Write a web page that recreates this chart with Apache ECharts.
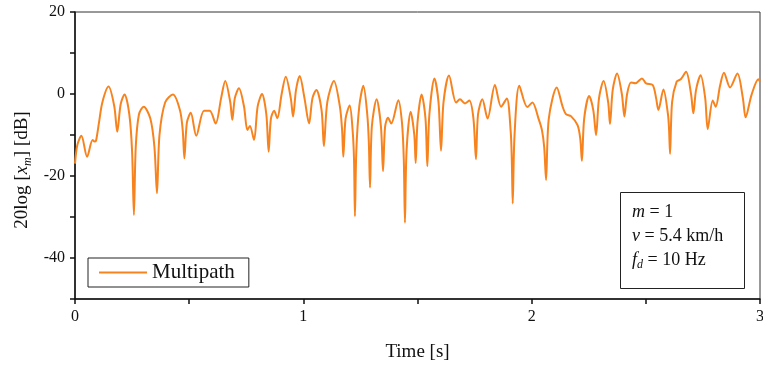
<!DOCTYPE html>
<html>
<head>
<meta charset="utf-8">
<script src="https://cdn.jsdelivr.net/npm/echarts@6/dist/echarts.min.js"></script>
<style>
  html, body { margin: 0; padding: 0; background: #fff; }
  #chart { width: 763px; height: 365px; }
</style>
</head>
<body>
<div id="chart"></div>
<script>
// Time [s]
var time = [
  0.000, 0.010, 0.028, 0.053, 0.077, 0.086, 0.092, 0.105, 0.120, 0.147,
  0.172, 0.185, 0.200, 0.217, 0.238, 0.250, 0.258, 0.266, 0.280, 0.301,
  0.330, 0.348, 0.359, 0.370, 0.395, 0.429, 0.460, 0.472, 0.479, 0.490,
  0.507, 0.531, 0.565, 0.590, 0.616, 0.640, 0.658, 0.680, 0.689, 0.700,
  0.718, 0.740, 0.755, 0.766, 0.784, 0.800, 0.819, 0.838, 0.848, 0.858,
  0.872, 0.886, 0.905, 0.923, 0.945, 0.955, 0.968, 0.984, 1.005, 1.025,
  1.040, 1.057, 1.080, 1.090, 1.105, 1.134, 1.160, 1.170, 1.175, 1.185,
  1.203, 1.216, 1.222, 1.226, 1.232, 1.245, 1.263, 1.280, 1.287, 1.292,
  1.300, 1.321, 1.340, 1.349, 1.358, 1.371, 1.385, 1.416, 1.432, 1.440,
  1.445, 1.452, 1.470, 1.486, 1.492, 1.500, 1.518, 1.535, 1.543, 1.552,
  1.574, 1.592, 1.603, 1.614, 1.638, 1.669, 1.686, 1.708, 1.727, 1.745,
  1.756, 1.765, 1.784, 1.807, 1.839, 1.866, 1.891, 1.908, 1.913, 1.917,
  1.925, 1.946, 1.981, 2.003, 2.030, 2.045, 2.055, 2.063, 2.075, 2.110,
  2.135, 2.150, 2.172, 2.201, 2.213, 2.220, 2.230, 2.252, 2.270, 2.282,
  2.295, 2.315, 2.335, 2.343, 2.355, 2.374, 2.395, 2.406, 2.418, 2.435,
  2.454, 2.483, 2.501, 2.530, 2.545, 2.555, 2.577, 2.597, 2.602, 2.606,
  2.615, 2.635, 2.653, 2.676, 2.698, 2.708, 2.720, 2.740, 2.760, 2.771,
  2.793, 2.806, 2.825, 2.842, 2.869, 2.901, 2.925, 2.937, 2.963, 2.993,
  3.000
];
// 20log[x_m] [dB]
var gain = [
  -17.0, -12.5, -10.2, -15.3, -11.2, -11.6, -11.4, -7.0, -2.0, 1.8,
  -3.0, -9.2, -2.5, -0.1, -5.0, -14.0, -29.5, -13.0, -5.0, -3.1,
  -6.0, -13.0, -24.2, -10.0, -2.0, -0.1, -4.0, -9.0, -15.7, -7.0,
  -4.6, -10.2, -4.1, -4.1, -7.2, -1.0, 3.2, -2.0, -6.3, -1.0,
  1.4, -3.0, -8.8, -7.8, -11.2, -3.0, 0.0, -5.0, -14.1, -6.0,
  -4.1, -5.9, 0.0, 4.2, -1.0, -5.5, 1.0, 4.4, -1.0, -7.2,
  -1.0, 1.0, -4.0, -12.7, -2.0, 3.2, -3.0, -9.0, -15.3, -6.0,
  -2.8, -9.0, -16.0, -29.8, -14.0, -3.0, 2.0, -5.0, -12.0, -22.8,
  -8.0, -1.3, -8.0, -18.8, -8.0, -5.8, -7.2, -1.5, -7.0, -16.0,
  -31.4, -14.0, -4.3, -10.0, -16.8, -7.0, -0.1, -6.0, -17.6, -5.0,
  3.8, -2.0, -13.8, -2.0, 4.5, -2.1, -1.3, -2.3, -1.6, -6.0,
  -15.9, -5.0, -1.3, -6.0, 2.2, -3.1, -1.1, -9.0, -16.0, -26.7,
  -10.0, 2.0, -3.2, -2.1, -6.0, -8.8, -13.0, -21.0, -6.0, 1.6,
  -3.0, -4.9, -5.4, -7.6, -11.0, -16.3, -6.0, -0.5, -4.0, -10.0,
  -1.0, 3.2, -2.0, -7.3, 1.0, 5.0, 0.0, -5.5, 0.0, 2.8,
  2.6, 3.8, 2.6, 2.2, -1.0, -3.9, 1.1, -5.0, -9.0, -14.6,
  -2.0, 3.0, 3.6, 5.4, 0.0, -4.7, 1.0, 4.6, -1.0, -8.6,
  -1.6, -3.1, 2.0, 5.2, 1.6, 5.0, -1.0, -5.7, -0.2, 3.6,
  3.0
];
var seriesName = 'Multipath';
var xTicks = [0, 1, 2, 3];
var yTicks = [20, 0, -20, -40];
var yTitle = '{a|20log [}{i|x}{s|m}{a|] [dB]}';
var noteLines = ['{i|m} = 1', '{i|v} = 5.4 km/h', '{i|f}{s|d} = 10 Hz'];

var FONT = '"Liberation Serif", "Times New Roman", serif';
var data = time.map(function (t, i) { return [t, gain[i]]; });

var chart = echarts.init(document.getElementById('chart'), null, { renderer: 'canvas' });
chart.setOption({
  animation: false,
  backgroundColor: '#fff',
  grid: {
    left: 75, right: 3, top: 12, bottom: 66,
    outerBoundsMode: 'none', containLabel: false,
    show: true, borderColor: '#333', borderWidth: 1, backgroundColor: 'transparent'
  },
  legend: {
    left: 88, top: 258,
    padding: [4, 14, 4, 11],
    borderColor: '#222', borderWidth: 1, borderRadius: 0,
    itemWidth: 48, itemHeight: 14, itemGap: 5,
    textStyle: { fontFamily: FONT, fontSize: 21, color: '#111', lineHeight: 21 },
    data: [{ name: seriesName, icon: 'path://M0,6 L48,6 L48,8 L0,8 Z' }]
  },
  xAxis: {
    type: 'value', min: 0, max: 3, interval: 0.5,
    name: 'Time [s]', nameLocation: 'middle', nameGap: 44,
    nameTextStyle: { fontFamily: FONT, fontSize: 19, color: '#111' },
    axisLine: { show: true, onZero: false, lineStyle: { color: '#111', width: 1.5 } },
    axisTick: { show: true, length: 5, inside: false, lineStyle: { color: '#111', width: 1.5 } },
    axisLabel: {
      margin: 10, fontFamily: FONT, fontSize: 16, color: '#111',
      formatter: function (v) { return xTicks.indexOf(v) >= 0 ? String(v) : ''; }
    },
    splitLine: { show: false }
  },
  yAxis: {
    type: 'value', min: -50, max: 20, interval: 10,
    axisLine: { show: true, onZero: false, lineStyle: { color: '#111', width: 1.5 } },
    axisTick: { show: true, length: 5, inside: false, lineStyle: { color: '#111', width: 1.5 } },
    axisLabel: {
      margin: 10, fontFamily: FONT, fontSize: 16, color: '#111',
      formatter: function (v) { return yTicks.indexOf(v) >= 0 ? String(v) : ''; }
    },
    splitLine: { show: false }
  },
  graphic: [
    {
      type: 'text', x: 22, y: 170, rotation: Math.PI / 2, z: 11,
      style: {
        text: yTitle, align: 'center', verticalAlign: 'middle',
        fontFamily: FONT, fontSize: 19, fill: '#111',
        rich: {
          a: { fontFamily: FONT, fontSize: 19, fill: '#111', lineHeight: 24, verticalAlign: 'middle' },
          i: { fontFamily: FONT, fontSize: 19, fill: '#111', fontStyle: 'italic', lineHeight: 24, verticalAlign: 'middle' },
          s: { fontFamily: FONT, fontSize: 12, fill: '#111', fontStyle: 'italic', lineHeight: 24, verticalAlign: 'bottom' }
        }
      }
    },
    {
      type: 'rect', left: 620, top: 192, z: 10,
      shape: { width: 124, height: 96 },
      style: { fill: '#fff', stroke: '#222', lineWidth: 1 }
    }
  ].concat(noteLines.map(function (txt, k) {
    return {
      type: 'text', left: 632, top: 203 + k * 24, z: 11,
      style: {
        text: txt, fontFamily: FONT, fontSize: 18, fill: '#111',
        rich: {
          i: { fontFamily: FONT, fontSize: 18, fontStyle: 'italic', fill: '#111', lineHeight: 22, verticalAlign: 'middle' },
          s: { fontFamily: FONT, fontSize: 12, fontStyle: 'italic', fill: '#111', lineHeight: 22, verticalAlign: 'bottom' }
        }
      }
    };
  })),
  series: [{
    name: seriesName, type: 'line', data: data,
    smooth: 0.3, symbol: 'none',
    lineStyle: { color: '#f7831f', width: 2 },
    itemStyle: { color: '#f7831f' }
  }]
});
</script>
</body>
</html>
